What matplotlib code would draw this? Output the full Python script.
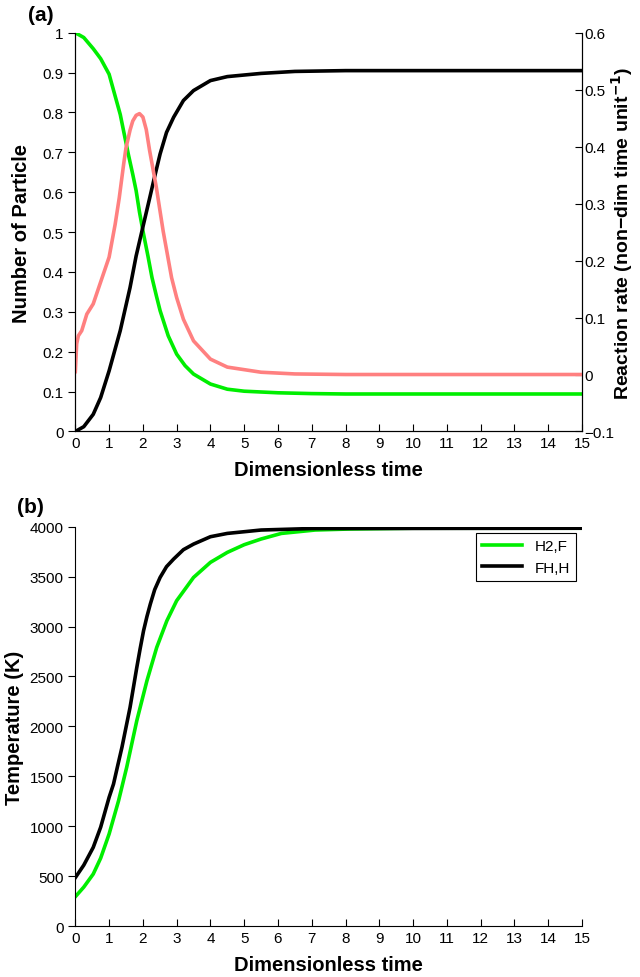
import matplotlib
matplotlib.use('Agg')
import matplotlib.pyplot as plt
import numpy as np

plt.rcParams['font.family'] = ['Liberation Sans', 'DejaVu Sans']

# (a) number of particles vs dimensionless time
t_h2f = [0, 0.25, 0.53, 0.75, 1.0, 1.15, 1.33, 1.45, 1.57, 1.7, 1.8, 1.9,
         2.02, 2.15, 2.27, 2.4, 2.51, 2.75, 3.0, 3.25, 3.5, 4.0, 4.5, 5.0,
         5.5, 6.0, 7.0, 8.0, 10, 15]
n_h2f = [1.0, 0.988, 0.96, 0.935, 0.896, 0.85, 0.795, 0.745, 0.695, 0.645,
         0.604, 0.55, 0.495, 0.44, 0.386, 0.34, 0.303, 0.24, 0.194, 0.165,
         0.144, 0.119, 0.106, 0.101, 0.099, 0.097, 0.095, 0.094, 0.094, 0.094]

t_fhh = [0, 0.25, 0.53, 0.75, 1.0, 1.33, 1.62, 1.8, 2.02, 2.2, 2.32, 2.51,
         2.7, 2.91, 3.2, 3.5, 4.0, 4.5, 5.5, 6.5, 8, 15]
n_fhh = [0.0, 0.012, 0.043, 0.085, 0.152, 0.253, 0.361, 0.44, 0.52, 0.585,
         0.629, 0.696, 0.75, 0.788, 0.83, 0.855, 0.88, 0.89, 0.898, 0.903,
         0.905, 0.905]

t_rate = [0, 0.04, 0.09, 0.19, 0.34, 0.53, 0.73, 1.0, 1.18, 1.3, 1.43, 1.5,
          1.62, 1.7, 1.8, 1.9, 2.0, 2.1, 2.2, 2.4, 2.6, 2.85, 3.0, 3.2, 3.5,
          4.0, 4.5, 5.5, 6.5, 8, 15]
rate = [0.005, 0.054, 0.068, 0.077, 0.106, 0.124, 0.159, 0.206, 0.264, 0.31,
        0.369, 0.398, 0.429, 0.445, 0.455, 0.458, 0.452, 0.43, 0.393, 0.328,
        0.252, 0.17, 0.135, 0.097, 0.059, 0.027, 0.013, 0.004, 0.001, 0.0,
        0.0]

# (b) temperature vs dimensionless time
t_temp_h2f = [0, 0.25, 0.53, 0.75, 1.0, 1.28, 1.52, 1.82, 2.12, 2.41, 2.71,
              3.0, 3.5, 4.0, 4.5, 5.0, 5.5, 6.1, 7.1, 8.1, 10, 15]
temp_h2f = [294, 390, 521, 680, 922, 1255, 1589, 2057, 2457, 2791, 3058,
            3259, 3492, 3643, 3743, 3820, 3877, 3933, 3967, 3977, 3985, 3985]

t_temp_fhh = [0, 0.25, 0.53, 0.75, 1.0, 1.13, 1.25, 1.38, 1.5, 1.62, 1.72,
              1.82, 1.92, 2.02, 2.12, 2.22, 2.35, 2.51, 2.7, 2.91, 3.2, 3.5,
              4.0, 4.5, 5.5, 7, 15]
temp_fhh = [485, 610, 788, 990, 1289, 1422, 1600, 1790, 1990, 2190, 2390,
            2591, 2780, 2958, 3100, 3225, 3370, 3492, 3600, 3676, 3770, 3826,
            3900, 3933, 3967, 3982, 3985]

x_ticks = list(range(0, 16))
green = '#00ee00'
pink = '#ff8080'
lw = 2.6
tick_fs = 11
label_fs = 14.5


def fmt(v, pos):
    return f'{v:g}'.replace('-', '\u2212')


def style_x(ax):
    ax.set_xlim(0, 15)
    ax.set_xticks(x_ticks)
    ax.tick_params(axis='x', direction='in', length=5, labelsize=tick_fs)
    ax.set_xlabel('Dimensionless time', fontsize=label_fs, fontweight='bold',
                  labelpad=7)


fig = plt.figure(figsize=(6.4, 9.78), dpi=100)

# panel (a)
ax1 = fig.add_axes([0.1177, 0.5578, 0.7916, 0.4077])
ax1.plot(t_h2f, n_h2f, color=green, lw=lw)
ax1.plot(t_fhh, n_fhh, color='black', lw=lw)
ax1.set_ylim(0, 1)
ax1.set_yticks(np.arange(0, 1.01, 0.1))
ax1.yaxis.set_major_formatter(fmt)
ax1.tick_params(axis='y', direction='out', length=5, labelsize=tick_fs)
ax1.set_ylabel('Number of Particle', fontsize=label_fs, fontweight='bold',
               labelpad=8)
style_x(ax1)
ax1.spines['top'].set_visible(False)

ax2 = ax1.twinx()
ax2.plot(t_rate, rate, color=pink, lw=lw)
ax2.set_ylim(-0.1, 0.6)
ax2.set_yticks(np.round(np.arange(-0.1, 0.61, 0.1), 1))
ax2.yaxis.set_major_formatter(fmt)
ax2.tick_params(axis='y', direction='in', length=5, labelsize=tick_fs,
                pad=2)
ax2.set_ylabel('Reaction rate (non\u2212dim time unit$^{\\mathbf{-1}}$)',
               fontsize=14, fontweight='bold', labelpad=-4)
ax2.spines['top'].set_visible(False)
fig.text(0.064, 0.984, '(a)', fontsize=15, fontweight='bold',
         ha='center', va='center')

# panel (b)
ax3 = fig.add_axes([0.1177, 0.0521, 0.7916, 0.4083])
ax3.plot(t_temp_h2f, temp_h2f, color=green, lw=lw, label='H2,F')
ax3.plot(t_temp_fhh, temp_fhh, color='black', lw=lw, label='FH,H')
ax3.set_ylim(0, 4000)
ax3.set_yticks(range(0, 4001, 500))
ax3.tick_params(axis='y', direction='out', length=5, labelsize=tick_fs)
ax3.set_ylabel('Temperature (K)', fontsize=label_fs, fontweight='bold',
               labelpad=4)
style_x(ax3)
ax3.spines['top'].set_visible(False)
ax3.spines['right'].set_visible(False)
leg = ax3.legend(loc='upper right', fontsize=11, fancybox=False,
                 edgecolor='black', framealpha=1, handlelength=2.6,
                 borderaxespad=0.4)
leg.get_frame().set_linewidth(0.8)
fig.text(0.047, 0.481, '(b)', fontsize=15, fontweight='bold',
         ha='center', va='center')

fig.savefig('out.png', dpi=100)
